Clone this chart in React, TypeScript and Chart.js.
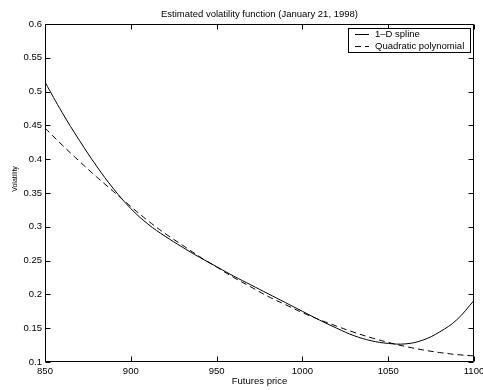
import React, { useEffect, useRef } from "react";
import { Chart, registerables } from "chart.js";

Chart.register(...registerables);

const TITLE = "Estimated volatility function (January 21, 1998)";
const X_LABEL = "Futures price";
const Y_LABEL = "Volatility";
const SERIES_LABELS = ["1\u2013D spline", "Quadratic polynomial"];

const X_TICKS = [850, 900, 950, 1000, 1050, 1100];
const Y_TICKS = [0.1, 0.15, 0.2, 0.25, 0.3, 0.35, 0.4, 0.45, 0.5, 0.55, 0.6];

const PRICES = [
  850, 860, 870, 880, 890, 900, 910, 920, 930, 940, 950, 960, 970,
  980, 990, 1000, 1010, 1020, 1030, 1040, 1050, 1060, 1070, 1080, 1090, 1100,
];

const SPLINE = [
  0.514, 0.469, 0.428, 0.39, 0.356, 0.327, 0.304, 0.286, 0.27, 0.255, 0.241, 0.227, 0.214,
  0.201, 0.188, 0.175, 0.162, 0.15, 0.139, 0.1315, 0.1275, 0.1268, 0.1322, 0.1445, 0.1625, 0.191,
];

const QUADRATIC = [
  0.446, 0.421, 0.397, 0.374, 0.352, 0.33, 0.309, 0.29, 0.273, 0.256, 0.2405, 0.225, 0.211,
  0.197, 0.185, 0.173, 0.1625, 0.153, 0.144, 0.136, 0.129, 0.123, 0.118, 0.114, 0.111, 0.109,
];

const FONT = "'Liberation Sans', Arial, Helvetica, sans-serif";

const framePlugin = {
  id: "matlabFrame",
  afterDatasetsDraw(chart: any) {
    const { ctx, chartArea } = chart;
    const { left, right, top, bottom } = chartArea;
    const xs = chart.scales.x;
    const ys = chart.scales.y;
    ctx.save();
    ctx.strokeStyle = "#000";
    ctx.lineWidth = 1;
    ctx.setLineDash([]);
    ctx.beginPath();
    const L = Math.round(left) + 0.5;
    const R = Math.round(right) - 0.5;
    const T = Math.round(top) + 0.5;
    const B = Math.round(bottom) - 0.5;
    ctx.rect(L, T, R - L, B - T);
    const tl = 5;
    X_TICKS.forEach((v) => {
      const px = Math.round(xs.getPixelForValue(v)) + 0.5;
      ctx.moveTo(px, B);
      ctx.lineTo(px, B - tl);
      ctx.moveTo(px, T);
      ctx.lineTo(px, T + tl);
    });
    Y_TICKS.forEach((v) => {
      const py = Math.round(ys.getPixelForValue(v)) + 0.5;
      ctx.moveTo(L, py);
      ctx.lineTo(L + tl, py);
      ctx.moveTo(R, py);
      ctx.lineTo(R - tl, py);
    });
    ctx.stroke();

    // title
    ctx.fillStyle = "#000";
    ctx.font = `9.5px ${FONT}`;
    ctx.textAlign = "center";
    ctx.textBaseline = "middle";
    ctx.fillText(TITLE, (left + right) / 2, 14);

    // y label
    ctx.save();
    ctx.translate(15, 179);
    ctx.rotate(-Math.PI / 2);
    ctx.font = `7px ${FONT}`;
    ctx.fillText(Y_LABEL, 0, 0);
    ctx.restore();

    // legend
    const bx = 348.5, by = 28.5, bw = 122, bh = 24;
    ctx.fillStyle = "#fff";
    ctx.fillRect(bx, by, bw, bh);
    ctx.strokeStyle = "#000";
    ctx.strokeRect(bx, by, bw, bh);
    const rows = [34.5, 46.5];
    chart.data.datasets.forEach((ds: any, i: number) => {
      const y = rows[i];
      ctx.beginPath();
      ctx.setLineDash(ds.borderDash || []);
      ctx.moveTo(355, y);
      ctx.lineTo(369, y);
      ctx.stroke();
      ctx.setLineDash([]);
      ctx.fillStyle = "#000";
      ctx.font = `9.5px ${FONT}`;
      ctx.textAlign = "left";
      ctx.textBaseline = "middle";
      ctx.fillText(ds.label, 375, y);
    });
    ctx.restore();
  },
};

export default function App() {
  const ref = useRef<HTMLCanvasElement | null>(null);
  useEffect(() => {
    if (!ref.current) return;
    const chart = new Chart(ref.current, {
      type: "line",
      data: {
        datasets: [
          {
            label: SERIES_LABELS[0],
            data: PRICES.map((p, i) => ({ x: p, y: SPLINE[i] })),
            borderColor: "#000",
            borderWidth: 1,
            pointRadius: 0,
            fill: false,
            tension: 0.4,
          },
          {
            label: SERIES_LABELS[1],
            data: PRICES.map((p, i) => ({ x: p, y: QUADRATIC[i] })),
            borderColor: "#000",
            borderWidth: 1,
            borderDash: [6, 4],
            pointRadius: 0,
            fill: false,
            tension: 0.4,
          },
        ],
      },
      options: {
        responsive: false,
        animation: false,
        layout: { padding: { top: 24, right: 9, bottom: 0, left: 0 } },
        plugins: {
          legend: { display: false },
          title: { display: false },
          tooltip: { enabled: false },
        },
        scales: {
          x: {
            type: "linear",
            min: 850,
            max: 1100,
            grid: { display: false, drawTicks: false },
            border: { display: false },
            afterBuildTicks: (s: any) => {
              s.ticks = X_TICKS.map((v) => ({ value: v }));
            },
            ticks: {
              color: "#000",
              padding: 4,
              maxRotation: 0,
              font: { family: FONT, size: 9.5 },
              callback: (v: any) => String(v),
            },
            title: {
              display: true,
              text: X_LABEL,
              color: "#000",
              font: { family: FONT, size: 9.5 },
              padding: { top: 0, bottom: 2.8 },
            },
            afterFit: (s: any) => {
              s.height = 28;
              s.paddingLeft = 0;
              s.paddingRight = 0;
            },
          },
          y: {
            type: "linear",
            min: 0.1,
            max: 0.6,
            grid: { display: false, drawTicks: false },
            border: { display: false },
            afterBuildTicks: (s: any) => {
              s.ticks = Y_TICKS.map((v) => ({ value: v }));
            },
            ticks: {
              color: "#000",
              padding: 3,
              font: { family: FONT, size: 9.5 },
              callback: (v: any) => String(Number(Number(v).toFixed(2))),
            },
            afterFit: (s: any) => {
              s.width = 45;
              s.paddingTop = 0;
              s.paddingBottom = 0;
            },
          },
        },
      },
      plugins: [framePlugin],
    } as any);
    return () => chart.destroy();
  }, []);
  return (
    <div style={{ position: "fixed", left: 0, top: 0, width: 483, height: 390, background: "#fff" }}>
      <canvas ref={ref} width={483} height={390} style={{ display: "block" }} />
    </div>
  );
}
